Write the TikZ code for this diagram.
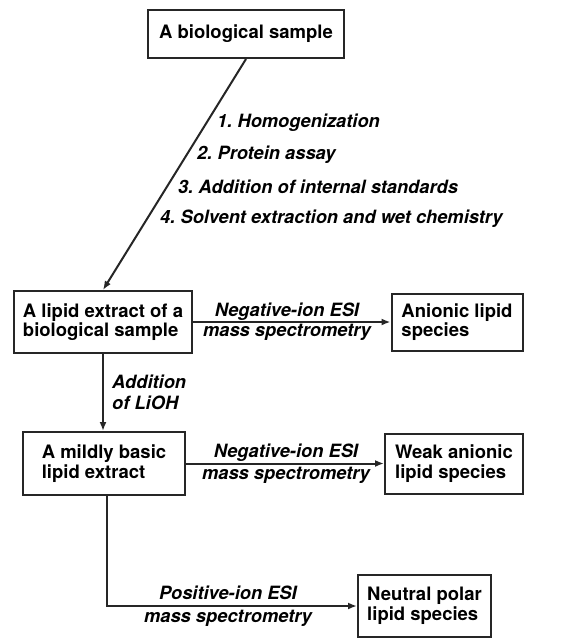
\documentclass[tikz,border=0pt]{standalone}
\usepackage{fontspec}
\setmainfont{TeX Gyre Heros}
\usetikzlibrary{arrows.meta}
\frenchspacing
\tikzset{
  box/.style={draw=black!85, line width=2pt, align=left, inner sep=0pt,
    font=\bfseries\fontsize{18.5}{19.5}\selectfont},
  lbl/.style={inner sep=0pt, align=center, font=\bfseries\itshape\fontsize{18.3}{21}\selectfont},
  steplbl/.style={inner sep=0pt, anchor=west, font=\bfseries\itshape\fontsize{18.3}{21}\selectfont},
  conn/.style={draw=black!85, line width=2pt, -{Latex[length=9pt,width=7pt]}}
}
\begin{document}
\begin{tikzpicture}[x=1pt,y=-1pt]
\useasboundingbox (0,0) rectangle (570,638);
\node[box, minimum width=196pt, minimum height=48pt] (b1) at (246,34) {A biological sample};
\node[box, minimum width=178pt, minimum height=62pt] (b2) at (103,322) {A lipid extract of a\\biological sample};
\node[box, minimum width=131pt, minimum height=57pt] (b3) at (457,322) {Anionic lipid\\species};
\node[box, minimum width=162pt, minimum height=63pt] (b4) at (104,463.5) {A mildly basic\\lipid extract};
\node[box, minimum width=138pt, minimum height=60pt] (b5) at (454,463.5) {Weak anionic\\lipid species};
\node[box, minimum width=133pt, minimum height=62pt] (b6) at (424.5,606) {Neutral polar\\lipid species};

\draw[conn] (b1.south) -- (b2.north);
\node[steplbl] (s1) at (217,123) {1. Homogenization};
\node[steplbl] (s2) at (197,155) {2. Protein assay};
\node[steplbl] (s3) at (178,187) {3. Addition of internal standards};
\node[steplbl] (s4) at (160,219) {4. Solvent extraction and wet chemistry};

\draw[conn] (b2.east) -- (b3.west);
\node[lbl, font=\bfseries\itshape\fontsize{18.3}{20}\selectfont] (l1) at (287,322) {Negative-ion ESI\\mass spectrometry};

\draw[conn] (b2.south) -- (b4.north -| b2.south);
\node[lbl, align=left, anchor=west] (l2) at (112,392) {Addition\\of LiOH};

\draw[conn] (b4.east) -- (b5.west);
\node[lbl, font=\bfseries\itshape\fontsize{18.3}{22}\selectfont] (l3) at (286,464) {Negative-ion ESI\\mass spectrometry};

\draw[conn] ([xshift=3pt]b4.south) |- (b6.west);
\node[lbl, font=\bfseries\itshape\fontsize{18.3}{23}\selectfont] (l4) at (228,606.5) {Positive-ion ESI\\mass spectrometry};
\end{tikzpicture}
\end{document}
